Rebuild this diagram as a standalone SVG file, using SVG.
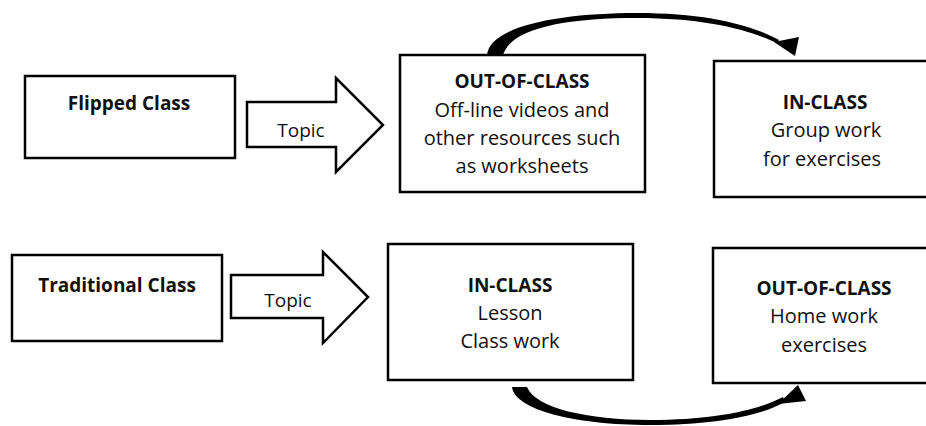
<svg xmlns="http://www.w3.org/2000/svg" width="926" height="426" viewBox="0 0 926 426">
<style>
.box{fill:#fff;stroke:#000;stroke-width:2.5}
.blk{fill:#fff;stroke:#000;stroke-width:2.5;stroke-linejoin:miter}
text{font-family:"Open Sans","Noto Sans","Liberation Sans",sans-serif;fill:#111;text-anchor:middle}
.b{font-weight:bold;font-size:19px}
.r{font-size:20px}
.t{font-size:19px}
.cv{fill:#000;stroke:none}
</style>
<rect width="926" height="426" fill="#fff"/>
<g id="connectors">
<polygon class="blk" points="247,102 336,102 336,78 383,125 336,172 336,147 247,147"/>
<text class="t" x="301" y="137">Topic</text>
<polygon class="blk" points="231,275 323,275 323,252 368,297 323,343 323,318 231,318"/>
<text class="t" x="288" y="307">Topic</text>
<path class="cv" d="M487,55 C490,26 560,13 637,13 C706,13 752,25 779,40 L777,43 C750,30 705,18 637,18 C566,18 511,28 503,55 Z"/>
<polygon class="cv" points="774,42 799,37 795,56"/>
<path class="cv" d="M512,387 C515,410 575,425 650,425 C715,425 760,416 785,402 L783,397 C758,410 715,420 650,420 C588,420 535,408 527,387 Z"/>
<polygon class="cv" points="778,404 806,401 798,385"/>
</g>
<g id="flipped">
<rect class="box" x="25" y="76" width="210" height="82"/>
<text class="b" x="129" y="110">Flipped Class</text>
</g>
<g id="flipped-out">
<rect class="box" x="400" y="55" width="245" height="137"/>
<text class="b" x="522" y="88">OUT-OF-CLASS</text>
<text class="r" x="522" y="117">Off-line videos and</text>
<text class="r" x="522" y="145">other resources such</text>
<text class="r" x="522" y="173">as worksheets</text>
</g>
<g id="flipped-in">
<rect class="box" x="714" y="61" width="230" height="136"/>
<text class="b" x="825" y="109">IN-CLASS</text>
<text class="r" x="826" y="137">Group work</text>
<text class="r" x="822" y="166">for exercises</text>
</g>
<g id="traditional">
<rect class="box" x="12" y="255" width="210" height="86"/>
<text class="b" x="117" y="292">Traditional Class</text>
</g>
<g id="traditional-in">
<rect class="box" x="388" y="244" width="245" height="136"/>
<text class="b" x="510" y="292">IN-CLASS</text>
<text class="r" x="510" y="320">Lesson</text>
<text class="r" x="510" y="348">Class work</text>
</g>
<g id="traditional-out">
<rect class="box" x="713" y="248" width="230" height="135"/>
<text class="b" x="824" y="295">OUT-OF-CLASS</text>
<text class="r" x="824" y="323">Home work</text>
<text class="r" x="824" y="352">exercises</text>
</g>
</svg>
